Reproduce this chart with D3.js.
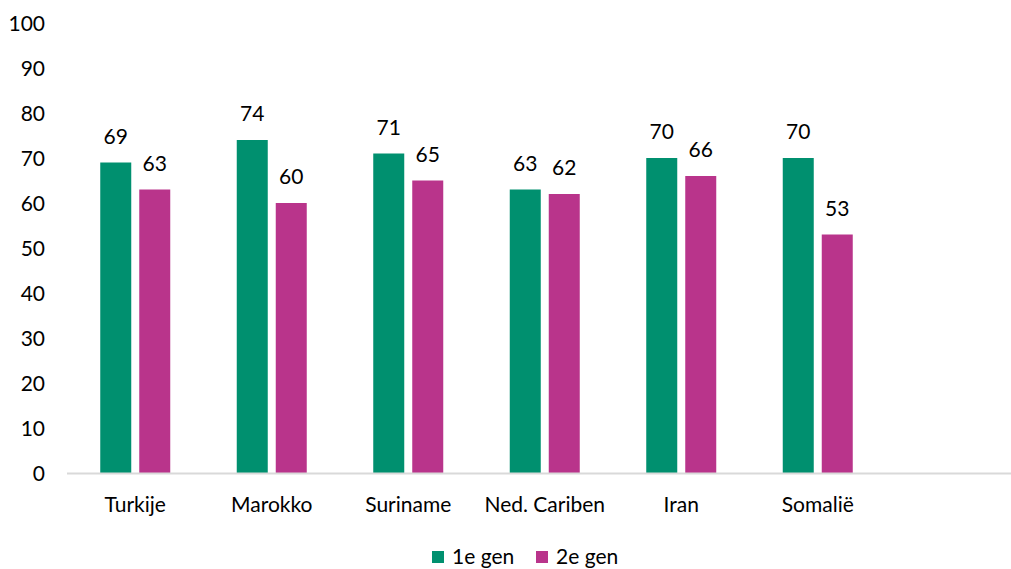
<!DOCTYPE html>
<html>
<head>
<meta charset="utf-8">
<script src="https://cdn.jsdelivr.net/npm/d3@7"></script>
<style>
  body { margin: 0; background: #fff; }
  svg { font-family: Lato, "Open Sans", sans-serif; }
</style>
</head>
<body>
<svg width="1011" height="569"></svg>
<script>
var categories = ["Turkije", "Marokko", "Suriname", "Ned. Cariben", "Iran", "Somalië", ""];
var gen1 = [69, 74, 71, 63, 70, 70];
var gen2 = [63, 60, 65, 62, 66, 53];
var seriesNames = ["1e gen", "2e gen"];
var yTicks = [0, 10, 20, 30, 40, 50, 60, 70, 80, 90, 100];

var colors = ["#00906F", "#B9348B"];

var svg = d3.select("svg");

var x = d3.scaleBand().domain(categories).range([67, 1022.5]).padding(0);
var y = d3.scaleLinear().domain([0, 100]).range([473, 23]);

var barW = 31, gap = 8;
var fs = "21px";

// y tick labels
svg.append("g").selectAll("text")
  .data(yTicks)
  .enter().append("text")
  .attr("x", 45)
  .attr("y", function(d) { return y(d); })
  .attr("dy", "0.36em")
  .attr("text-anchor", "end")
  .style("font-size", fs)
  .style("fill", "#000")
  .text(function(d) { return d; });

var rows = categories.slice(0, 6).map(function(c, i) { return { cat: c, v: [gen1[i], gen2[i]] }; });

var groups = svg.append("g").selectAll("g")
  .data(rows)
  .enter().append("g");

[0, 1].forEach(function(s) {
  groups.append("rect")
    .attr("x", function(d) { return x(d.cat) + x.bandwidth() / 2 - barW - gap / 2 + s * (barW + gap); })
    .attr("y", function(d) { return y(d.v[s]); })
    .attr("width", barW)
    .attr("height", function(d) { return y(0) - y(d.v[s]); })
    .attr("fill", colors[s]);

  groups.append("text")
    .attr("x", function(d) { return x(d.cat) + x.bandwidth() / 2 - barW / 2 - gap / 2 + s * (barW + gap); })
    .attr("y", function(d) { return y(d.v[s]) - 19; })
    .attr("text-anchor", "middle")
    .style("font-size", fs)
    .text(function(d) { return d.v[s]; });
});

// baseline
svg.append("line")
  .attr("x1", 67).attr("x2", 1011)
  .attr("y1", y(0) + 0.5).attr("y2", y(0) + 0.5)
  .style("stroke", "#d9d9d9").style("stroke-width", 2);

// category labels
svg.append("g").selectAll("text")
  .data(categories.slice(0, 6))
  .enter().append("text")
  .attr("x", function(d) { return x(d) + x.bandwidth() / 2; })
  .attr("y", 512)
  .attr("text-anchor", "middle")
  .style("font-size", fs)
  .text(function(d) { return d; });

// legend
var legend = svg.append("g");
var lx = [432, 536];
seriesNames.forEach(function(n, i) {
  legend.append("rect")
    .attr("x", lx[i]).attr("y", 551)
    .attr("width", 12).attr("height", 12)
    .attr("fill", colors[i]);
  legend.append("text")
    .attr("x", lx[i] + 20).attr("y", 564)
    .style("font-size", fs)
    .text(n);
});
</script>
</body>
</html>
